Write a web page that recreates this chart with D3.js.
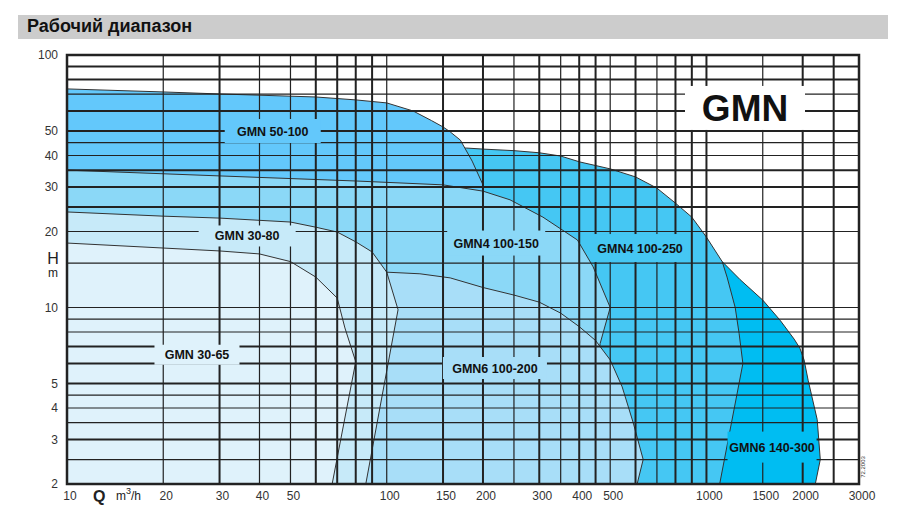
<!DOCTYPE html>
<html lang="ru">
<head>
    <meta charset="UTF-8" />
    <title>Рабочий диапазон GMN</title>
    <script src="https://d3js.org/d3.v7.min.js"></script>
    <style>
        body { margin: 0; background: #fff; }
        svg { font-family: "Liberation Sans", Arial, Helvetica, sans-serif; }
        .grid line { stroke: #222; }
        .region { stroke: #333; stroke-width: 1px; stroke-linejoin: round; }
        .tick-label { font-size: 12px; fill: #333; }
        .region-label { font-size: 12.5px; font-weight: bold; fill: #111; }
    </style>
</head>
<body>
    <script>
        // tick labels
        const qTicks = [10, 20, 30, 40, 50, 100, 150, 200, 300, 400, 500, 1000, 1500, 2000, 3000];
        const hTicks = [100, 50, 40, 30, 20, 10, 5, 4, 3, 2];

        // grid lines (thick / thin as on the sheet)
        const qGridThick = [30, 60, 70, 80, 90, 150, 200, 300, 400, 450, 600, 800, 900, 1000, 2000, 2500];
        const qGridThin = [20, 40, 50, 100, 250, 350, 500, 700, 1500];
        const hGridThick = [90, 80, 60, 50, 35, 30, 25, 7, 6, 5, 3];
        const hGridThin = [70, 45, 40, 20, 15, 10, 9, 8, 4.5, 4, 3.5, 2.5];

        // working ranges, [Q m3/h, H m]
        const gmn6_140_300 = [[1000, 16.5], [1120, 15.2], [1274, 12.9], [1500, 10.7], [1700, 8.9], [1880, 7.5],
            [1960, 6.9], [2020, 6.2], [2080, 5.15], [2220, 3.6], [2270, 2.5], [2190, 2], [1000, 2]];
        const gmn4_100_250 = [[150, 43], [178, 42.8], [200, 42.4], [250, 41.8], [300, 41.0], [350, 39.8],
            [402, 37.7], [450, 36.5], [500, 35.4], [600, 32.9], [700, 29.7], [800, 25.9], [900, 22.8],
            [1000, 19.0], [1120, 15.2], [1160, 13.2], [1230, 10], [1265, 7.9], [1300, 6.0], [1100, 2], [150, 2]];
        const gmn_50_100 = [[10, 73.4], [20, 71.4], [30, 70.1], [60, 68.2], [80, 66.4], [100, 64.6], [121, 60],
            [138, 55], [150, 51.9], [158, 49.6], [170, 46], [185, 38], [200, 30.6], [200, 2], [10, 2]];
        const gmn4_100_150 = [[10, 35.0], [30, 33.2], [80, 31.7], [150, 30.6], [200, 28.9], [243, 26.7],
            [308, 22.8], [395, 18.5], [442, 14.5], [500, 10.0], [465, 7.2], [420, 2], [10, 2]];
        const gmn6_100_200 = [[100, 13.8], [127, 13.6], [158, 13.1], [200, 12.0], [250, 11.2], [300, 10.5],
            [350, 9.5], [400, 8.4], [450, 7.4], [500, 6.2], [545, 4.85], [590, 3.5], [634, 2.5], [607, 2], [80, 2]];
        const gmn_30_80 = [[10, 23.9], [20, 23.0], [30, 22.6], [50, 21.8], [60, 20.8], [70, 19.9], [80, 18.2],
            [90, 16.6], [100, 13.8], [108.5, 9.8], [86, 2], [10, 2]];
        const gmn_30_65 = [[10, 18.0], [20, 17.2], [30, 16.75], [40, 16.3], [50, 15.2], [60, 13.2], [70, 10.9],
            [74, 8.3], [80, 6.1], [67.5, 2], [10, 2]];

        const pumpNames = ["GMN6 140-300", "GMN4 100-250", "GMN 50-100", "GMN4 100-150", "GMN6 100-200", "GMN 30-80", "GMN 30-65"];

        // drawing order back to front
        const regions = [
            { name: pumpNames[0], pts: gmn6_140_300, color: "#00bdf2" },
            { name: pumpNames[1], pts: gmn4_100_250, color: "#45c7f3" },
            { name: pumpNames[2], pts: gmn_50_100, color: "#63c8fb" },
            { name: pumpNames[3], pts: gmn4_100_150, color: "#8bd8f7" },
            { name: pumpNames[4], pts: gmn6_100_200, color: "#a8def8" },
            { name: pumpNames[5], pts: gmn_30_80, color: "#c7eaf9" },
            { name: pumpNames[6], pts: gmn_30_65, color: "#dff2fb" }
        ];

        // label placement: centre in data space, box size in px
        const labels = [
            { text: pumpNames[2], q: 44, h: 50, w: 96, ht: 24, fill: "#63c8fb" },
            { text: pumpNames[5], q: 36.6, h: 19.2, w: 97, ht: 21, fill: "#c7eaf9" },
            { text: pumpNames[6], q: 25.5, h: 6.5, w: 85, ht: 20, fill: "#dff2fb" },
            { text: pumpNames[3], q: 220, h: 18.0, w: 98, ht: 25, fill: "#8bd8f7" },
            { text: pumpNames[1], q: 620, h: 17.2, w: 96, ht: 28, fill: "#45c7f3" },
            { text: pumpNames[4], q: 218, h: 5.76, w: 104, ht: 22, fill: "#a8def8" },
            { text: pumpNames[0], q: 1604, h: 2.8, w: 89, ht: 31, fill: "#00bdf2" }
        ];

        const width = 898, height = 518;
        const plotL = 67, plotR = 859, plotT = 55, plotB = 484;

        const x = d3.scaleLog().domain([10, 3000]).range([plotL, plotR]);
        const y = d3.scaleLog().domain([2, 100]).range([plotB, plotT]);

        const svg = d3.select("body").append("svg")
            .attr("width", width)
            .attr("height", height);

        // title bar
        svg.append("rect")
            .attr("x", 18).attr("y", 15).attr("width", 870).attr("height", 24)
            .attr("fill", "#cccccc");
        svg.append("text")
            .attr("x", 27).attr("y", 32)
            .attr("font-size", 18).attr("font-weight", "bold").attr("fill", "#111")
            .text("Рабочий диапазон");

        // plot background
        svg.append("rect")
            .attr("x", plotL).attr("y", plotT)
            .attr("width", plotR - plotL).attr("height", plotB - plotT)
            .attr("fill", "#fff");

        const line = d3.line().x(d => x(d[0])).y(d => y(d[1]));

        svg.append("g").selectAll("path")
            .data(regions)
            .join("path")
            .attr("class", "region")
            .attr("d", d => line(d.pts) + "Z")
            .attr("fill", d => d.color);

        // grid
        const grid = svg.append("g").attr("class", "grid");
        const vLines = qGridThick.map(v => ({ v, w: 2 })).concat(qGridThin.map(v => ({ v, w: 1.2 })));
        const hLines = hGridThick.map(v => ({ v, w: 2 })).concat(hGridThin.map(v => ({ v, w: 1.2 })));

        grid.selectAll(".v")
            .data(vLines)
            .join("line")
            .attr("x1", d => x(d.v)).attr("x2", d => x(d.v))
            .attr("y1", plotT).attr("y2", plotB)
            .attr("stroke-width", d => d.w);

        grid.selectAll(".h")
            .data(hLines)
            .join("line")
            .attr("y1", d => y(d.v)).attr("y2", d => y(d.v))
            .attr("x1", plotL).attr("x2", plotR)
            .attr("stroke-width", d => d.w);

        // region labels with masking boxes
        const lab = svg.append("g").selectAll("g")
            .data(labels)
            .join("g")
            .attr("transform", d => `translate(${x(d.q)},${y(d.h)})`);
        lab.append("rect")
            .attr("x", d => -d.w / 2).attr("y", d => -d.ht / 2)
            .attr("width", d => d.w).attr("height", d => d.ht)
            .attr("fill", d => d.fill);
        lab.append("text")
            .attr("class", "region-label")
            .attr("text-anchor", "middle")
            .attr("dy", "0.36em")
            .text(d => d.text);

        // big GMN tag
        const tag = svg.append("g").attr("transform", `translate(${x(1320)},${y(61.7)})`);
        tag.append("rect")
            .attr("x", -60).attr("y", -22).attr("width", 120).attr("height", 44)
            .attr("fill", "#fff");
        tag.append("text")
            .attr("text-anchor", "middle").attr("dy", "0.36em")
            .attr("font-size", 37).attr("font-weight", "bold").attr("fill", "#111")
            .text("GMN");

        // frame
        svg.append("rect")
            .attr("x", plotL).attr("y", plotT)
            .attr("width", plotR - plotL).attr("height", plotB - plotT)
            .attr("fill", "none").attr("stroke", "#222").attr("stroke-width", 2.5);

        // axis labels
        svg.append("g").selectAll("text")
            .data(hTicks)
            .join("text")
            .attr("class", "tick-label")
            .attr("text-anchor", "end")
            .attr("x", plotL - 9)
            .attr("y", d => y(d))
            .attr("dy", "0.35em")
            .text(d => d);

        svg.append("g").selectAll("text")
            .data(qTicks)
            .join("text")
            .attr("class", "tick-label")
            .attr("text-anchor", "middle")
            .attr("x", d => x(d) + 3)
            .attr("y", plotB + 12)
            .attr("dy", "0.35em")
            .text(d => d);

        svg.append("text")
            .attr("x", 53).attr("y", 264)
            .attr("text-anchor", "middle")
            .attr("font-size", 16).attr("fill", "#222")
            .text("H");
        svg.append("text")
            .attr("x", 53).attr("y", 277)
            .attr("text-anchor", "middle")
            .attr("font-size", 12).attr("fill", "#222")
            .text("m");

        svg.append("text")
            .attr("x", 93).attr("y", 502)
            .attr("font-size", 16).attr("font-weight", "bold").attr("fill", "#222")
            .text("Q");
        const unit = svg.append("text")
            .attr("x", 116).attr("y", 500)
            .attr("font-size", 12).attr("fill", "#222");
        unit.append("tspan").text("m");
        unit.append("tspan").attr("dy", -6).attr("font-size", 9).text("3");
        unit.append("tspan").attr("dy", 6).text("/h");

        svg.append("text")
            .attr("transform", "translate(865,467) rotate(-90)")
            .attr("text-anchor", "middle")
            .attr("font-size", 6).attr("fill", "#333")
            .text("72.2003");
    </script>
</body>
</html>
